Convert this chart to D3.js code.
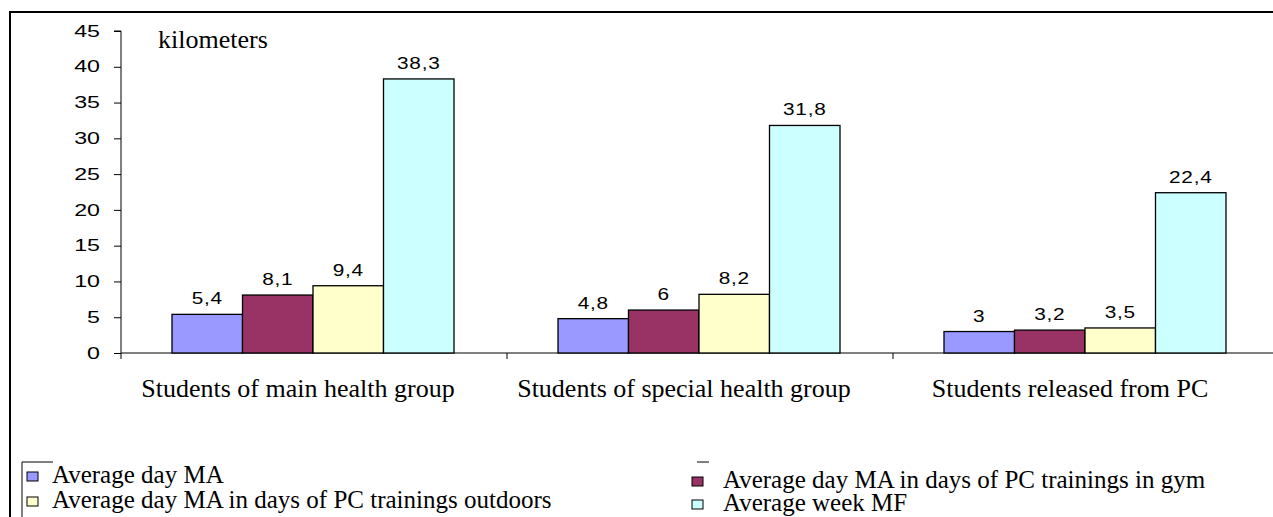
<!DOCTYPE html>
<html>
<head>
<meta charset="utf-8">
<script src="https://cdn.jsdelivr.net/npm/d3@7"></script>
<style>
  body { margin: 0; background: #fff; }
  .tick text { font-family: "Liberation Sans", Arial, sans-serif; }
  .serif { font-family: "Liberation Serif", "Times New Roman", serif; }
</style>
</head>
<body>
<svg class="chart"></svg>
<script>
// data
var groups = ["Students of main health group", "Students of special health group", "Students released from PC"];
var series = ["Average day MA", "Average day MA in days of PC trainings in gym",
              "Average day MA in days of PC trainings outdoors", "Average week MF"];
var dayMA     = [5.4, 4.8, 3.0];
var gymMA     = [8.1, 6.0, 3.2];
var outdoorMA = [9.4, 8.2, 3.5];
var weekMF    = [38.3, 31.8, 22.4];
var yTicks = [0, 5, 10, 15, 20, 25, 30, 35, 40, 45];
var colors = ["#9999ff", "#993366", "#ffffcc", "#ccffff"];

var values = [dayMA, gymMA, outdoorMA, weekMF];

var gwidth = 1273, gheight = 517;
var svg = d3.select(".chart")
    .attr("width", gwidth)
    .attr("height", gheight);

// outer frame (runs off the right and bottom edge)
svg.append("rect")
    .attr("x", 10).attr("y", 12)
    .attr("width", 1300).attr("height", 600)
    .attr("fill", "none")
    .attr("stroke", "#000")
    .attr("stroke-width", 2);

var plotLeft = 121, plotRight = 1279, plotTop = 31, plotBottom = 353;
var stretch = 1.45; // the digits in the original are drawn wide

var y = d3.scaleLinear()
    .domain([0, 45])
    .range([plotBottom, plotTop]);
var x0 = d3.scaleBand()
    .domain(groups)
    .range([plotLeft, plotRight]);
var x1 = d3.scaleBand()
    .domain(d3.range(series.length))
    .range([51, x0.bandwidth() - 53]);

// y axis
var yAxis = d3.axisLeft(y)
    .tickValues(yTicks)
    .tickSize(7)
    .tickPadding(0);
var yaxis = svg.append("g")
    .attr("transform", "translate(" + plotLeft + ",0)")
    .call(yAxis);
yaxis.select(".domain").attr("d", "M-7," + plotTop + "H0V" + (plotBottom + 6));
yaxis.selectAll(".tick text")
    .attr("x", -21 / stretch)
    .attr("transform", "scale(" + stretch + ",1)")
    .attr("font-size", 16)
    .attr("fill", "#000");

// x axis line and group separators
svg.append("line")
    .attr("x1", plotLeft).attr("x2", plotRight)
    .attr("y1", plotBottom).attr("y2", plotBottom)
    .attr("stroke", "#000");
svg.selectAll(".sep")
    .data(groups.slice(1))
    .enter().append("line")
    .attr("class", "sep")
    .attr("x1", function(d) { return x0(d); })
    .attr("x2", function(d) { return x0(d); })
    .attr("y1", plotBottom).attr("y2", plotBottom + 6)
    .attr("stroke", "#000");

// bars
var gg = svg.selectAll(".grp")
    .data(groups)
    .enter().append("g")
    .attr("class", "grp")
    .attr("transform", function(d) { return "translate(" + x0(d) + ",0)"; });

function rows(d, gi) {
  return values.map(function(v, si) { return {s: si, v: v[gi]}; });
}

gg.selectAll("rect")
    .data(rows)
    .enter().append("rect")
    .attr("x", function(d) { return x1(d.s); })
    .attr("y", function(d) { return y(d.v); })
    .attr("width", x1.bandwidth())
    .attr("height", function(d) { return plotBottom - y(d.v); })
    .attr("fill", function(d) { return colors[d.s]; })
    .attr("stroke", "#000")
    .attr("stroke-width", 1.3);

gg.selectAll(".val")
    .data(rows)
    .enter().append("text")
    .attr("class", "val")
    .attr("transform", function(d) {
      return "translate(" + (x1(d.s) + x1.bandwidth() / 2) + "," + (y(d.v) - 10) + ") scale(1.3,1)";
    })
    .attr("text-anchor", "middle")
    .attr("font-family", "Liberation Sans, Arial, sans-serif")
    .attr("font-size", 16)
    .attr("letter-spacing", 0.6)
    .text(function(d) { return String(d.v).replace(".", ","); });

// category labels
gg.append("text")
    .attr("class", "serif")
    .attr("x", x0.bandwidth() / 2 - 16)
    .attr("y", 397)
    .attr("text-anchor", "middle")
    .attr("font-size", 26)
    .text(function(d) { return d; });

// unit label
svg.append("text")
    .attr("class", "serif")
    .attr("x", 158).attr("y", 48)
    .attr("font-size", 26)
    .text("kilometers");

// legend
var legendPos = [
  {s: 0, x: 27, y: 483},
  {s: 1, x: 692, y: 488},
  {s: 2, x: 27, y: 508},
  {s: 3, x: 692, y: 511}
];
svg.append("path")
    .attr("d", "M22,530V462H53")
    .attr("fill", "none")
    .attr("stroke", "#000");
svg.append("line")
    .attr("x1", 697).attr("x2", 709)
    .attr("y1", 462).attr("y2", 462)
    .attr("stroke", "#000");
var lg = svg.selectAll(".lg")
    .data(legendPos)
    .enter().append("g")
    .attr("class", "lg");
lg.append("rect")
    .attr("x", function(d) { return d.x; })
    .attr("y", function(d) { return d.y - 11; })
    .attr("width", 11).attr("height", 9)
    .attr("fill", function(d) { return colors[d.s]; })
    .attr("stroke", "#000");
lg.append("text")
    .attr("class", "serif")
    .attr("x", function(d) { return d.x < 100 ? 52 : 723; })
    .attr("y", function(d) { return d.y; })
    .attr("font-size", 25)
    .text(function(d) { return series[d.s]; });
</script>
</body>
</html>
